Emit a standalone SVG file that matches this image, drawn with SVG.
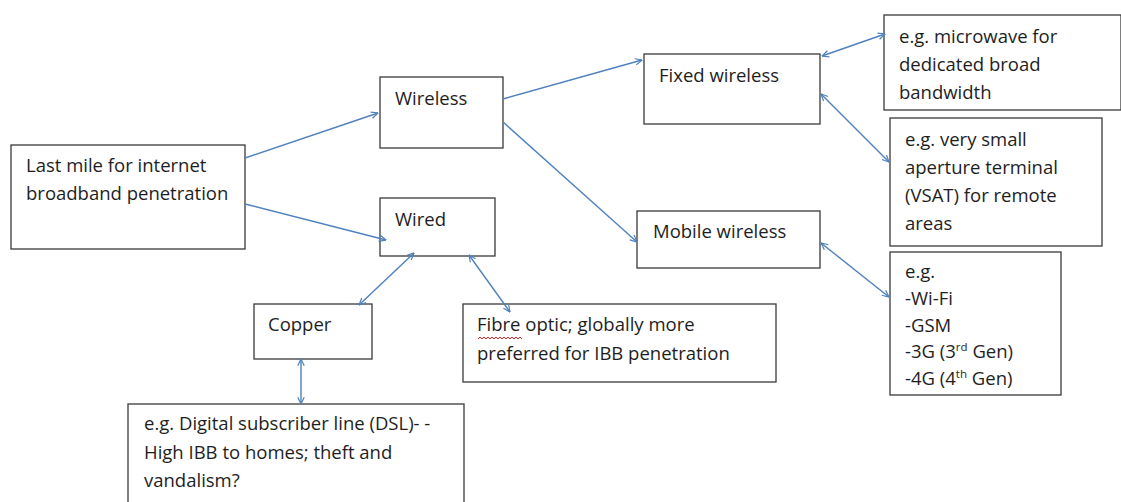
<svg xmlns="http://www.w3.org/2000/svg" width="1121" height="502" viewBox="0 0 1121 502">
<defs>
<style>
.box{fill:#fff;stroke:#3a3a3a;stroke-width:1.3}
.t{font-family:"Open Sans","Liberation Sans",sans-serif;font-size:18.5px;fill:#1e1e1e}
.c{stroke:#4f81bd;stroke-width:1.4;fill:none}
</style>
<marker id="ah" viewBox="0 0 10 10" refX="9.5" refY="5" markerWidth="8" markerHeight="8" markerUnits="userSpaceOnUse" orient="auto-start-reverse">
<path d="M1,1 L9.5,5 L1,9" fill="none" stroke="#4f81bd" stroke-width="1.5"/>
</marker>
</defs>
<rect width="1121" height="502" fill="#fff"/>
<g id="lastmile">
<rect class="box" x="11" y="145" width="234" height="104"/>
<text class="t" x="26" y="172">Last mile for internet</text>
<text class="t" x="26" y="200">broadband penetration</text>
</g>
<g id="wireless">
<rect class="box" x="380" y="77" width="123" height="71"/>
<text class="t" x="395" y="105">Wireless</text>
</g>
<g id="wired">
<rect class="box" x="380" y="198" width="115" height="58"/>
<text class="t" x="395" y="226">Wired</text>
</g>
<g id="fixed">
<rect class="box" x="644" y="54" width="176" height="70"/>
<text class="t" x="659" y="82">Fixed wireless</text>
</g>
<g id="mobile">
<rect class="box" x="637" y="211" width="183" height="57"/>
<text class="t" x="653" y="238">Mobile wireless</text>
</g>
<g id="microwave">
<rect class="box" x="884" y="15" width="237" height="95"/>
<text class="t" x="899" y="43">e.g. microwave for</text>
<text class="t" x="899" y="71">dedicated broad</text>
<text class="t" x="899" y="99">bandwidth</text>
</g>
<g id="vsat">
<rect class="box" x="890" y="118" width="212" height="128"/>
<text class="t" x="905" y="146">e.g. very small</text>
<text class="t" x="905" y="174">aperture terminal</text>
<text class="t" x="905" y="202">(VSAT) for remote</text>
<text class="t" x="905" y="230">areas</text>
</g>
<g id="mobilelist">
<rect class="box" x="890" y="252" width="171" height="143"/>
<text class="t" x="905" y="278">e.g.</text>
<text class="t" x="905" y="305">-Wi-Fi</text>
<text class="t" x="905" y="332">-GSM</text>
<text class="t" x="905" y="358">-3G (3<tspan font-size="11.5" dy="-7">rd</tspan><tspan dy="7"> Gen)</tspan></text>
<text class="t" x="905" y="385">-4G (4<tspan font-size="11.5" dy="-7">th</tspan><tspan dy="7"> Gen)</tspan></text>
</g>
<g id="copper">
<rect class="box" x="254" y="304" width="118" height="55"/>
<text class="t" x="268" y="331">Copper</text>
</g>
<g id="fibre">
<rect class="box" x="463" y="304" width="313" height="78"/>
<text class="t" x="477" y="331">Fibre optic; globally more</text>
<text class="t" x="477" y="360">preferred for IBB penetration</text>
<path d="M478,339 l2,-2 l2,2 l2,-2 l2,2 l2,-2 l2,2 l2,-2 l2,2 l2,-2 l2,2 l2,-2 l2,2 l2,-2 l2,2 l2,-2 l2,2 l2,-2 l2,2 l2,-2 l2,2 l2,-2 l2,2" fill="none" stroke="#e02020" stroke-width="1"/>
</g>
<g id="dsl">
<rect class="box" x="128" y="404" width="336" height="110"/>
<text class="t" x="144" y="430">e.g. Digital subscriber line (DSL)- -</text>
<text class="t" x="144" y="459">High IBB to homes; theft and</text>
<text class="t" x="144" y="487">vandalism?</text>
</g>
<g id="connectors">
<line class="c" x1="245" y1="158" x2="378" y2="113" marker-end="url(#ah)"/>
<line class="c" x1="245" y1="204" x2="386" y2="240" marker-end="url(#ah)"/>
<line class="c" x1="503" y1="99" x2="642" y2="60" marker-end="url(#ah)"/>
<line class="c" x1="503" y1="122" x2="637" y2="242" marker-end="url(#ah)"/>
<line class="c" x1="822" y1="56" x2="885" y2="34" marker-start="url(#ah)" marker-end="url(#ah)"/>
<line class="c" x1="821" y1="94" x2="889" y2="162" marker-start="url(#ah)" marker-end="url(#ah)"/>
<line class="c" x1="821" y1="243" x2="889" y2="297" marker-start="url(#ah)" marker-end="url(#ah)"/>
<line class="c" x1="414" y1="253" x2="359" y2="305" marker-start="url(#ah)" marker-end="url(#ah)"/>
<line class="c" x1="469" y1="255" x2="510" y2="312" marker-start="url(#ah)" marker-end="url(#ah)"/>
<line class="c" x1="301" y1="359" x2="301" y2="404" marker-start="url(#ah)" marker-end="url(#ah)"/>
</g>
</svg>
